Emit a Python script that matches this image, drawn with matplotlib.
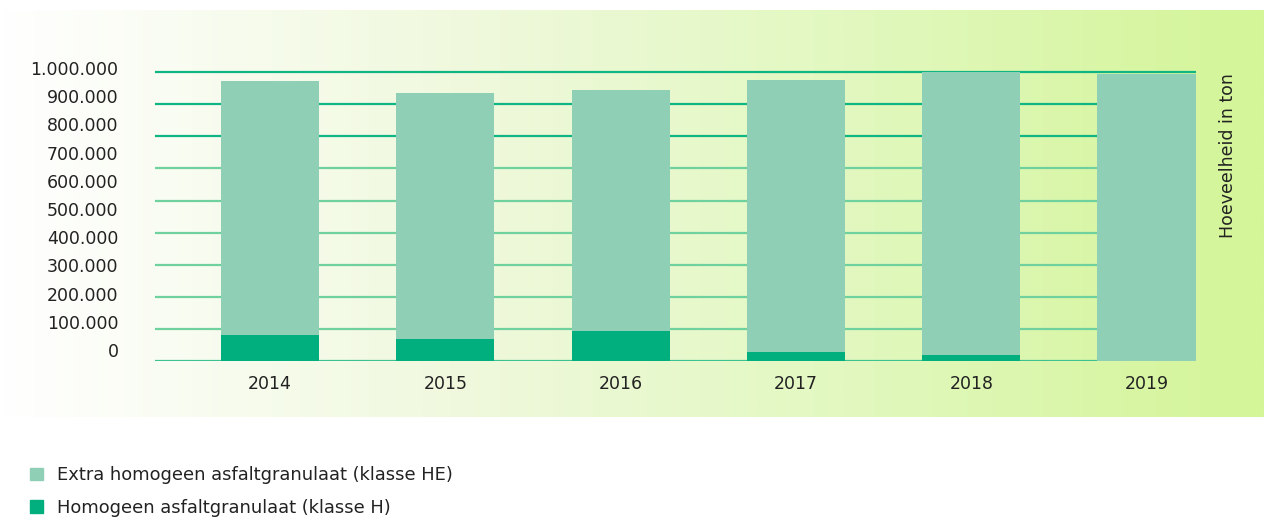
import numpy as np
import matplotlib.pyplot as plt
from matplotlib.colors import LinearSegmentedColormap
from matplotlib.patches import Patch

# --- data (ton) ---
years = ['2014', '2015', '2016', '2017', '2018', '2019']
totaal = [970000, 928000, 939000, 973000, 1000000, 994000]
klasse_h = [89000, 76000, 104000, 30000, 19000, 0]
klasse_he = [t - h for t, h in zip(totaal, klasse_h)]

y_ticks = [0, 100000, 200000, 300000, 400000, 500000, 600000, 700000, 800000, 900000, 1000000]
y_labels = ['0', '100.000', '200.000', '300.000', '400.000', '500.000', '600.000',
            '700.000', '800.000', '900.000', '1.000.000']
legend_labels = ['Extra homogeen asfaltgranulaat (klasse HE)', 'Homogeen asfaltgranulaat (klasse H)']

c_he = '#8ecfb5'
c_h = '#00ae7e'
c_text = '#222222'

plt.rcParams['font.family'] = ['DejaVu Sans']

W, H = 1272, 518
fig = plt.figure(figsize=(W / 100, H / 100), dpi=100)

# gradient background panel
bg = fig.add_axes([0, 1 - 416.7 / H, 1264 / W, (416.7 - 10) / H], zorder=0)
cmap = LinearSegmentedColormap.from_list('bg', ['#ffffff', '#f1f9e0', '#e2f8c0', '#d4f598'])
bg.imshow(np.linspace(0, 1, 512).reshape(1, -1), aspect='auto', cmap=cmap, extent=[0, 1, 0, 1])
bg.axis('off')

# main axes (a bit of headroom above the top gridline for the top label)
ymax = 1022000
ax = fig.add_axes([154.5 / W, 1 - 360.7 / H, (1196 - 154.5) / W, (360.7 - 66.0) / H], zorder=1)
ax.patch.set_alpha(0)
x = np.arange(len(years))

# 9 gridlines between 0 and top, as in the original
grid_y = np.linspace(0, 1000000, 10)
for gy in grid_y:
    col = '#10b584' if gy >= 750000 else '#6fd19d'
    if gy == 0:
        col = '#3cc190'
    ax.axhline(gy, color=col, lw=1.6, zorder=1)

ax.bar(x, klasse_h, width=0.56, color=c_h, zorder=2)
ax.bar(x, klasse_he, width=0.56, bottom=klasse_h, color=c_he, zorder=2)

# tick labels are slightly offset from the gridlines in the original
ax.set_yticks([v * 0.978 + 37000 for v in y_ticks])
ax.set_yticklabels(y_labels)
ax.set_xticks(x)
ax.set_xticklabels(years)
ax.set_xlim(-0.659, 5.282)
ax.set_ylim(0, ymax)
ax.tick_params(axis='y', length=0, pad=26, labelsize=12.5, labelcolor=c_text)
ax.tick_params(axis='x', length=0, pad=10, labelsize=12.5, labelcolor=c_text)
for s in ax.spines.values():
    s.set_visible(False)

fig.text(1228 / W, 1 - 73 / H, 'Hoeveelheid in ton', rotation=90, ha='center', va='top',
         fontsize=12.5, color=c_text)

handles = [Patch(color=c_he), Patch(color=c_h)]
fig.legend(handles, legend_labels, loc='upper left', bbox_to_anchor=(16 / W, 1 - 452 / H),
           frameon=False, fontsize=12.9, handlelength=0.7, handleheight=0.7,
           handletextpad=0.8, labelspacing=0.8, labelcolor=c_text, borderpad=0.3)

fig.savefig('out.png', dpi=100)
